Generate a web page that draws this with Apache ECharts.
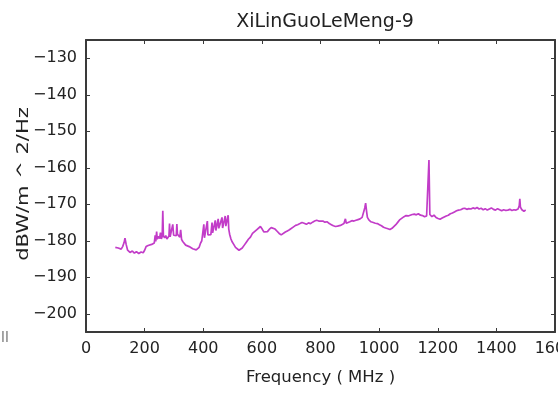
<!DOCTYPE html>
<html>
<head>
<meta charset="utf-8">
<script src="https://cdn.jsdelivr.net/npm/echarts@6/dist/echarts.min.js"></script>
<style>
  html, body { margin: 0; padding: 0; background: #fff; }
  #chart { width: 558px; height: 394px; }
</style>
</head>
<body>
<div id="chart"></div>
<script>
// Spectrum trace for station XiLinGuoLeMeng-9
const titleText = 'XiLinGuoLeMeng-9';
const xName = 'Frequency ( MHz )';
const yName = 'dBW/m ^ 2/Hz';

const freqMHz = [
  100, 105, 110, 115, 120, 125, 130, 133, 137, 142,
  150, 158, 165, 172, 180, 188, 195, 200, 205, 212,
  218, 224, 229, 233, 236, 238, 241, 243, 247, 251,
  254, 257, 260, 262, 264, 268, 272, 276, 280, 283,
  285, 287, 292, 296, 299, 304, 308, 310, 312, 317,
  320, 323, 326, 330, 334, 340, 346, 352, 358, 364,
  370, 376, 382, 386, 390, 395, 400, 402, 404, 409,
  414, 416, 421, 426, 430, 432, 437, 441, 443, 448,
  451, 453, 458, 464, 466, 471, 475, 477, 481, 485,
  487, 490, 494, 498, 504, 510, 516, 522, 527, 533,
  540, 547, 554, 561, 568, 575, 582, 588, 595, 601,
  607, 613, 619, 625, 632, 638, 645, 652, 659, 666,
  672, 680, 687, 694, 700, 708, 715, 722, 730, 737,
  744, 752, 759, 766, 773, 780, 787, 794, 800, 808,
  815, 823, 830, 837, 844, 851, 858, 863, 868, 874,
  880, 885, 888, 894, 900, 907, 914, 921, 928, 935,
  942, 948, 951, 954, 957, 960, 965, 972, 980, 987,
  994, 1001, 1008, 1015, 1022, 1030, 1037, 1044, 1050, 1057,
  1064, 1071, 1078, 1085, 1092, 1099, 1106, 1113, 1120, 1127,
  1134, 1141, 1148, 1155, 1162, 1167, 1170, 1173, 1180, 1187,
  1194, 1201, 1208, 1215, 1222, 1229, 1236, 1243, 1250, 1257,
  1264, 1271, 1278, 1285, 1292, 1299, 1306, 1313, 1320, 1327,
  1334, 1341, 1348, 1355, 1362, 1369, 1376, 1383, 1390, 1397,
  1404, 1411, 1418, 1425, 1432, 1439, 1446, 1453, 1460, 1467,
  1474, 1478, 1480, 1482, 1487, 1494, 1500
];

const psd = [
  -181.8, -182.2, -182.0, -181.9, -182.3, -181.6, -180.5, -179.3, -181.0, -182.6,
  -183.2, -182.8, -183.4, -183.0, -183.5, -183.1, -183.3, -182.6, -181.6, -181.3,
  -181.6, -181.0, -181.4, -180.6, -178.5, -180.2, -177.5, -179.6, -178.8, -179.4,
  -177.8, -179.5, -178.8, -171.8, -178.6, -179.2, -178.6, -179.5, -179.0, -178.7,
  -175.3, -178.9, -178.7, -175.5, -178.5, -178.3, -178.6, -175.4, -178.2, -178.6,
  -179.0, -177.0, -179.6, -180.2, -180.6, -181.2, -180.9, -181.6, -181.8, -182.2,
  -182.0, -182.5, -182.7, -181.8, -180.8, -180.0, -179.5, -175.5, -179.2, -178.8,
  -174.6, -178.4, -178.0, -178.3, -175.0, -177.8, -177.4, -174.4, -177.2, -176.8,
  -174.0, -176.6, -176.4, -173.6, -176.5, -176.2, -173.2, -176.0, -175.8, -173.0,
  -176.8, -178.2, -179.4, -180.2, -181.0, -181.8, -182.3, -182.6, -182.5, -182.0,
  -181.2, -180.4, -179.6, -179.0, -178.0, -177.5, -177.0, -176.6, -176.1, -176.8,
  -177.6, -178.0, -177.5, -176.9, -176.4, -176.2, -176.8, -177.4, -178.0, -178.4,
  -178.2, -177.6, -177.3, -177.0, -176.6, -176.2, -175.8, -175.6, -175.3, -175.0,
  -175.2, -175.5, -175.1, -175.3, -174.9, -174.6, -174.4, -174.6, -174.3, -174.6,
  -174.9, -174.8, -175.3, -175.6, -175.9, -176.1, -176.0, -175.6, -175.8, -175.4,
  -175.3, -174.0, -175.2, -175.0, -174.8, -174.5, -174.6, -174.4, -174.2, -174.0,
  -173.6, -173.2, -171.0, -169.7, -171.8, -173.6, -174.3, -174.8, -175.0, -175.2,
  -175.3, -175.6, -175.9, -176.3, -176.5, -176.7, -176.9, -176.6, -176.2, -175.6,
  -174.9, -174.2, -173.8, -173.4, -173.1, -173.2, -173.0, -172.8, -172.7, -172.9,
  -172.6, -173.0, -173.1, -173.4, -173.2, -173.0, -157.9, -172.8, -173.4, -173.0,
  -173.6, -173.9, -174.1, -173.8, -173.5, -173.2, -173.0, -172.6, -172.4, -172.1,
  -171.8, -171.6, -171.5, -171.2, -171.1, -171.4, -171.2, -171.3, -171.0, -171.2,
  -170.9, -171.3, -171.1, -171.5, -171.2, -171.6, -171.3, -171.0, -171.4, -171.6,
  -171.2, -171.5, -171.8, -171.5, -171.7, -171.6, -171.4, -171.7, -171.5, -171.6,
  -171.3, -170.4, -168.5, -170.8, -171.5, -171.9, -171.6
];

const xTicks = [0, 200, 400, 600, 800, 1000, 1200, 1400, 1600];
const yTicks = [-200, -190, -180, -170, -160, -150, -140, -130];

const frameColor = '#3a3a3a';
const textColor = '#222';
const font = 'DejaVu Sans';
const minus = v => String(v).replace('-', '\u2212');

const chart = echarts.init(document.getElementById('chart'), null, { renderer: 'canvas' });

const xBase = {
  type: 'value', min: 0, max: 1600, interval: 200,
  axisLine: { show: true, onZero: false, lineStyle: { color: frameColor, width: 2 } },
  axisTick: { show: true, inside: true, length: 4, customValues: xTicks, lineStyle: { color: frameColor, width: 1 } },
  splitLine: { show: false }
};
const yBase = {
  type: 'value', min: -205, max: -125,
  axisLine: { show: true, onZero: false, lineStyle: { color: frameColor, width: 2 } },
  axisTick: { show: true, inside: true, length: 4, customValues: yTicks, lineStyle: { color: frameColor, width: 1 } },
  splitLine: { show: false }
};

chart.setOption({
  animation: false,
  backgroundColor: '#fff',
  title: {
    text: titleText, left: 320, top: 8, textAlign: 'center',
    textStyle: { fontFamily: font, fontSize: 19, fontWeight: 'normal', color: textColor }
  },
  grid: { left: 86, right: 3, top: 40, bottom: 62, containLabel: false, outerBoundsMode: 'none' },
  xAxis: [
    Object.assign({}, xBase, {
      position: 'bottom',
      name: xName, nameLocation: 'middle', nameGap: 37,
      nameTextStyle: { fontFamily: font, fontSize: 16.5, color: textColor },
      axisLabel: {
        show: true, margin: 9, customValues: xTicks, fontFamily: font, fontSize: 16, color: textColor,
        showMaxLabel: true, showMinLabel: true, alignMaxLabel: 'center', hideOverlap: false,
        formatter: v => String(v)
      }
    }),
    Object.assign({}, xBase, { position: 'top', axisLabel: { show: false } })
  ],
  yAxis: [
    Object.assign({}, yBase, {
      position: 'left',
      axisLabel: { show: true, margin: 9, customValues: yTicks, fontFamily: font, fontSize: 16, color: textColor, formatter: minus }
    }),
    Object.assign({}, yBase, { position: 'right', axisLabel: { show: false } })
  ],
  graphic: [
    {
      type: 'text', x: 24, y: 184, rotation: Math.PI / 2, scaleX: 1.4,
      style: { text: yName, font: '15px "DejaVu Sans"', fill: textColor, align: 'center', verticalAlign: 'middle' }
    },
    {
      type: 'text', x: 1, y: 331,
      style: { text: 'll', font: '14px "DejaVu Sans"', fill: '#777' }
    }
  ],
  series: [{
    type: 'line',
    xAxisIndex: 0, yAxisIndex: 0,
    data: freqMHz.map((f, i) => [f, psd[i]]),
    showSymbol: false, symbol: 'none',
    lineStyle: { color: '#c23cc8', width: 1.7 },
    emphasis: { disabled: true }
  }]
});
</script>
</body>
</html>
